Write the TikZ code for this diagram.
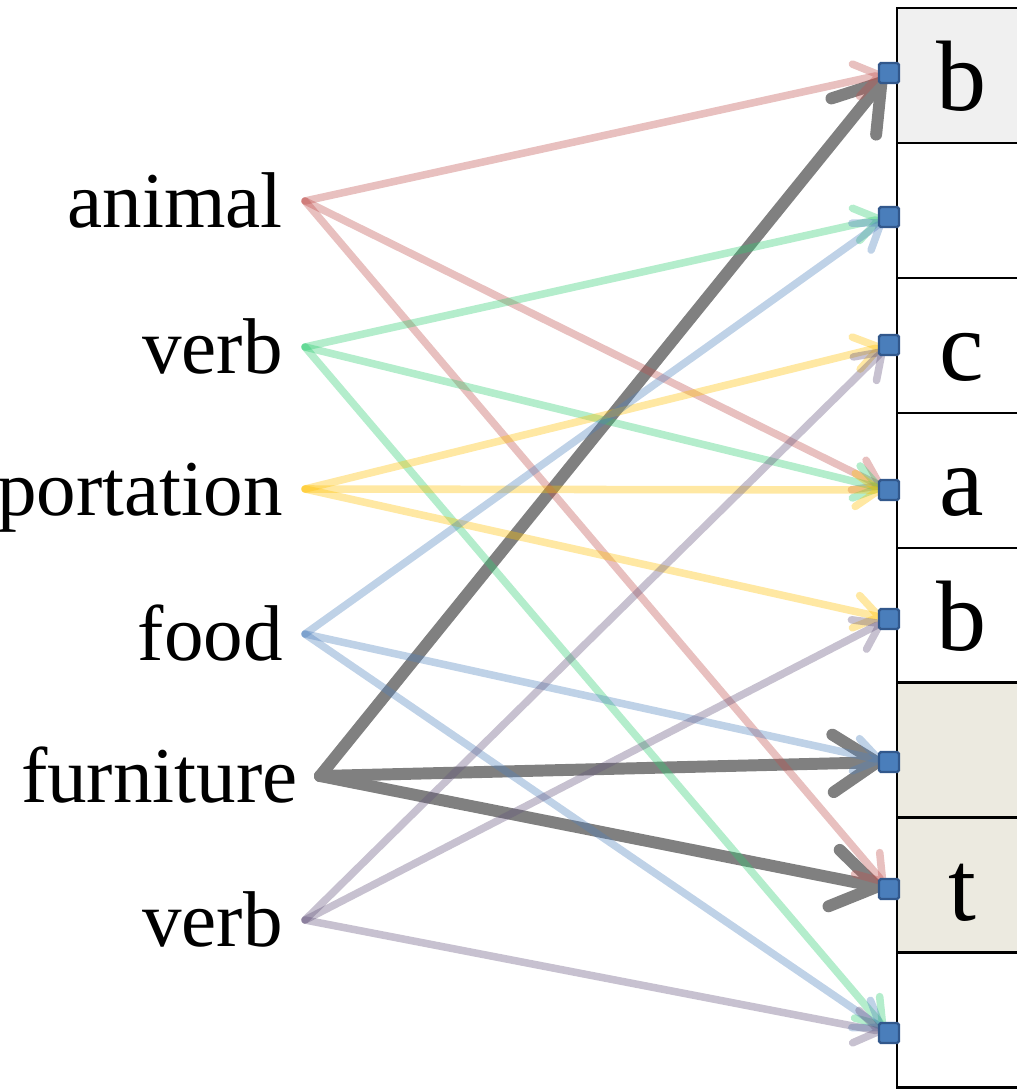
\documentclass[tikz,border=0pt]{standalone}
\usepackage{fontspec}
\setmainfont{Liberation Serif}
\usepackage{tikz}
\usetikzlibrary{positioning, arrows.meta}

\definecolor{slotblue}{RGB}{74,126,187}
\definecolor{slotedge}{RGB}{50,88,140}
\definecolor{cellgray}{RGB}{240,240,240}
\definecolor{cellbeige}{RGB}{236,234,224}
\definecolor{linkred}{RGB}{192,80,77}
\definecolor{linkgreen}{RGB}{46,204,113}
\definecolor{linkyellow}{RGB}{255,192,0}
\definecolor{linkblue}{RGB}{79,129,189}
\definecolor{linkpurple}{RGB}{100,84,124}
\definecolor{linkdark}{RGB}{128,128,128}

\begin{document}
\begin{tikzpicture}[
  x=0.02cm, y=-0.02cm,
  word/.style={anchor=east, inner xsep=0.44cm, inner ysep=0pt,
    font=\fontsize{45}{50}\selectfont, text height=39.6pt, text depth=9pt},
  cell/.style={rectangle, draw, line width=1.6pt, outer sep=0pt,
    minimum width=2.6cm, minimum height=2.7cm,
    font=\fontsize{57}{60}\selectfont, text height=39.8pt, text depth=0pt},
  slot/.style={rectangle, draw=slotedge, fill=slotblue, line width=1.4pt,
    rounded corners=1pt, minimum size=0.4cm, inner sep=0pt},
  link/.style={line width=4.3pt, opacity=0.36, line cap=round, line join=round,
    -{Straight Barb[length=0.48cm, width=0.66cm, round]}, shorten >=0.12cm},
  strong/.style={line width=6.8pt, draw=linkdark, line cap=round, line join=round,
    -{Straight Barb[length=0.88cm, width=1.15cm, round]}, shorten >=0.12cm}
]
  \useasboundingbox (0,0) rectangle (1017,1090);
  \clip (0,0) rectangle (1017,1090);

  % memory cells
  \node[cell, fill=cellgray] (c1) at (962,75.5) {b};
  \node[cell, below=0pt of c1] (c2) {};
  \node[cell, below=0pt of c2] (c3) {c};
  \node[cell, below=0pt of c3] (c4) {a};
  \node[cell, below=0pt of c4] (c5) {b};
  \node[cell, fill=cellbeige, below=0pt of c5] (c6) {};
  \node[cell, fill=cellbeige, below=0pt of c6] (c7) {t};
  \node[cell, below=0pt of c7] (c8) {};

  % words
  \node[word] (animal) at (305,201) {animal};
  \node[word] (verbA) at (305,347) {verb};
  \node[word] (transport) at (305,489) {transportation};
  \node[word] (food) at (305,634) {food};
  \node[word] (furniture) at (320,776) {furniture};
  \node[word] (verbB) at (305,920) {verb};

  % slots
  \coordinate (p1) at (889,73);
  \coordinate (p2) at (889,217);
  \coordinate (p3) at (889,345);
  \coordinate (p4) at (889,490);
  \coordinate (p5) at (889,619);
  \coordinate (p6) at (889,762);
  \coordinate (p7) at (889,889);
  \coordinate (p8) at (889,1033);

  \draw[strong] (furniture.east) -- (p1);
  \draw[strong] (furniture.east) -- (p6);
  \draw[strong] (furniture.east) -- (p7);

  \draw[link, draw=linkred] (animal.east) -- (p1);
  \draw[link, draw=linkred] (animal.east) -- (p4);
  \draw[link, draw=linkred] (animal.east) -- (p7);
  \draw[link, draw=linkgreen] (verbA.east) -- (p2);
  \draw[link, draw=linkgreen] (verbA.east) -- (p4);
  \draw[link, draw=linkgreen] (verbA.east) -- (p8);
  \draw[link, draw=linkyellow] (transport.east) -- (p3);
  \draw[link, draw=linkyellow] (transport.east) -- (p4);
  \draw[link, draw=linkyellow] (transport.east) -- (p5);
  \draw[link, draw=linkblue] (food.east) -- (p2);
  \draw[link, draw=linkblue] (food.east) -- (p6);
  \draw[link, draw=linkblue] (food.east) -- (p8);
  \draw[link, draw=linkpurple] (verbB.east) -- (p3);
  \draw[link, draw=linkpurple] (verbB.east) -- (p5);
  \draw[link, draw=linkpurple] (verbB.east) -- (p8);

  \node[slot] (s1) at (p1) {};
  \node[slot] (s2) at (p2) {};
  \node[slot] (s3) at (p3) {};
  \node[slot] (s4) at (p4) {};
  \node[slot] (s5) at (p5) {};
  \node[slot] (s6) at (p6) {};
  \node[slot] (s7) at (p7) {};
  \node[slot] (s8) at (p8) {};
\end{tikzpicture}
\end{document}
